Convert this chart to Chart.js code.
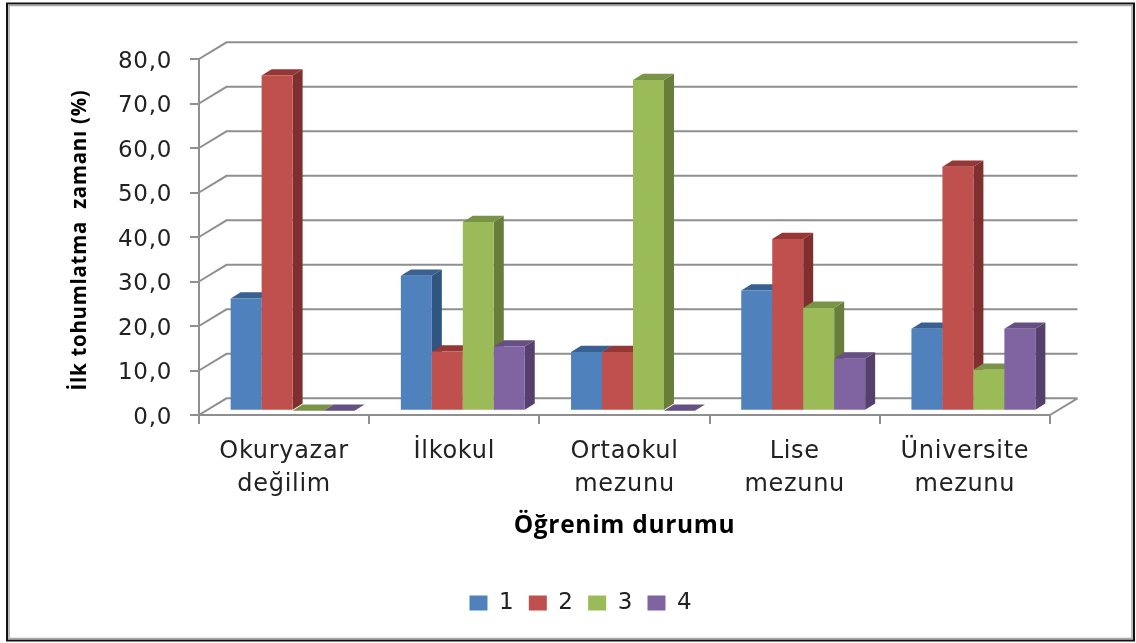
<!DOCTYPE html>
<html><head><meta charset="utf-8">
<style>html,body{margin:0;padding:0;background:#fff}canvas{display:block;filter:blur(0.4px)}</style>
<script src="https://cdn.jsdelivr.net/npm/chart.js@4"></script></head>
<body><div style="width:1136px;height:643px"><canvas id="c" width="1136" height="643"></canvas></div>
<script>
const categories=[['Okuryazar','değilim'],'İlkokul',['Ortaokul','mezunu'],['Lise','mezunu'],['Üniversite','mezunu']];
const seriesNames=['1','2','3','4'];
const series1=[25.2,30.3,13.2,27.0,18.4];
const series2=[75.3,13.3,13.2,38.6,54.8];
const series3=[0,42.4,74.3,23.1,9.2];
const series4=[0,14.4,0,11.7,18.4];
const frontColors=['#4f81bd','#c0504d','#9bbb59','#8064a2'];
const topColors=['#386192','#953735','#7a9447','#664f82'];
const sideColors=['#2f5580','#7e2f2e','#677e3a','#543f6d'];
const allSeries=[series1,series2,series3,series4];
const BAR_SHIFT={x:8.5,y:-4.3},BAR_DEPTH={x:10,y:-6.3},WALL={x:27.5,y:-16.7};
const GRID='#8f8f8f';
const FONT='"DejaVu Sans"';
const TITLE_FONT='"Open Sans"';

function poly(ctx,pts,fill){ctx.beginPath();pts.forEach((p,i)=>i?ctx.lineTo(p[0],p[1]):ctx.moveTo(p[0],p[1]));ctx.closePath();ctx.fillStyle=fill;ctx.fill();}

const plugin3d={
 id:'plugin3d',
 afterLayout(chart){
  const l=chart.legend;
  l.left=579.5-300;l.right=579.5+300;l.top=577;l.bottom=627;
  chart.scales.y.getLabelItems().forEach(it=>{it.options.translation[1]+=3;});
 },
 beforeDraw(chart){
  const ctx=chart.ctx;
  ctx.letterSpacing='0.7px';
  ctx.save();
  ctx.strokeStyle='#111';ctx.lineWidth=2;ctx.strokeRect(7,3.5,1127,637);
  ctx.strokeStyle='#a8a8a8';ctx.lineWidth=1.5;ctx.strokeRect(9,5.5,1123,633);
  ctx.restore();
 },
 beforeDatasetsDraw(chart){
  const ctx=chart.ctx,y=chart.scales.y,a=chart.chartArea;
  ctx.save();ctx.strokeStyle=GRID;ctx.lineWidth=2;ctx.beginPath();
  y.ticks.forEach(t=>{const p=y.getPixelForValue(t.value);
   ctx.moveTo(a.left,p);ctx.lineTo(a.left+WALL.x,p+WALL.y);ctx.lineTo(a.right+WALL.x,p+WALL.y);});
  ctx.moveTo(a.right,a.bottom);ctx.lineTo(a.right+WALL.x,a.bottom+WALL.y);
  ctx.stroke();ctx.restore();
  ctx.save();ctx.translate(BAR_SHIFT.x,BAR_SHIFT.y);
  allSeries.forEach((_,i)=>{
   const meta=chart.getDatasetMeta(i);
   meta.data.forEach(b=>{
    const L=b.x-b.width/2,R=b.x+b.width/2,T=b.y,B=b.base,dx=BAR_DEPTH.x,dy=BAR_DEPTH.y;
    poly(ctx,[[R,T],[R+dx,T+dy],[R+dx,B+dy],[R,B]],sideColors[i]);
    poly(ctx,[[L,T],[L+dx,T+dy],[R+dx,T+dy],[R,T]],topColors[i]);
   });
   meta.controller.draw();
  });
  ctx.restore();
 },
 beforeDatasetDraw(){return false;}
};

new Chart(document.getElementById('c'),{
 type:'bar',
 data:{labels:categories,datasets:allSeries.map((d,i)=>({label:seriesNames[i],data:d,backgroundColor:frontColors[i],borderWidth:0}))},
 plugins:[plugin3d],
 options:{
  responsive:false,animation:false,
  layout:{padding:{left:0,right:86,top:59,bottom:0}},
  datasets:{bar:{barPercentage:1,categoryPercentage:0.728}},
  plugins:{
   tooltip:{enabled:false},
   legend:{position:'bottom',labels:{boxWidth:18,boxHeight:15,padding:14.5,color:'#222',font:{family:FONT,size:23}}}
  },
  scales:{
   x:{
    grid:{display:true,drawOnChartArea:false,color:GRID,lineWidth:2,tickLength:9},
    border:{color:GRID,width:2},
    ticks:{color:'#222',font:{family:FONT,size:24,lineHeight:1.375},maxRotation:0,autoSkip:false,padding:11},
    title:{display:true,text:'Öğrenim durumu',color:'#000',font:{family:TITLE_FONT,size:24.5,weight:'bold'},padding:{top:0,bottom:55}},
    afterFit(s){s.height=643-415-s.chart.legend.height;}
   },
   y:{
    min:0,max:80,
    grid:{display:true,drawOnChartArea:false,color:GRID,lineWidth:2,tickLength:9},
    border:{color:GRID,width:2},
    ticks:{stepSize:10,color:'#222',font:{family:FONT,size:23},padding:18,callback:v=>v.toFixed(1).replace('.',',')},
    title:{display:true,text:'İlk tohumlatma  zamanı (%) ',color:'#000',font:{family:TITLE_FONT,size:20.5,weight:'bold'},padding:{top:68,bottom:0}},
    afterFit(s){s.width=199;}
   }
  }
 }
});
</script></body></html>
